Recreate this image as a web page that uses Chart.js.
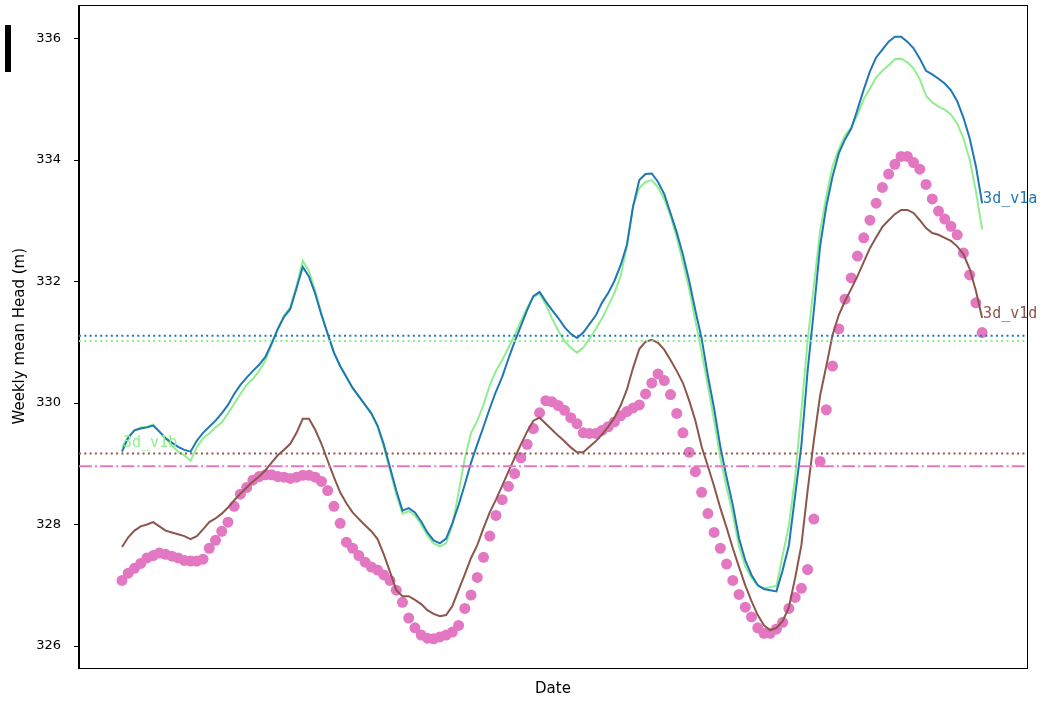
<!DOCTYPE html>
<html><head><meta charset="utf-8">
<script src="https://cdn.jsdelivr.net/npm/chart.js@4.4.0/dist/chart.umd.min.js"></script>
<style>html,body{margin:0;padding:0;background:#fff;}#wrap{width:1048px;height:703px;position:relative;}</style>
</head><body><div id="wrap"><canvas id="c" width="1048" height="703"></canvas></div>
<script>
// Weekly mean head (m), one value per week
const v1a = [329.20,329.43,329.55,329.58,329.60,329.63,329.53,329.42,329.35,329.28,329.23,329.20,329.38,329.51,329.61,329.71,329.83,329.97,330.15,330.30,330.42,330.53,330.63,330.76,330.98,331.22,331.42,331.55,331.89,332.24,332.08,331.80,331.45,331.14,330.83,330.61,330.43,330.25,330.11,329.97,329.83,329.63,329.32,328.94,328.56,328.23,328.27,328.20,328.05,327.87,327.74,327.69,327.77,328.02,328.32,328.66,329.02,329.32,329.61,329.91,330.19,330.43,330.73,331.01,331.27,331.53,331.76,331.83,331.67,331.53,331.40,331.25,331.14,331.07,331.16,331.30,331.44,331.65,331.81,332.01,332.27,332.60,333.24,333.67,333.77,333.78,333.64,333.44,333.13,332.81,332.44,332.01,331.52,331.06,330.45,329.91,329.28,328.78,328.32,327.77,327.41,327.17,327.00,326.94,326.92,326.90,327.25,327.66,328.48,329.30,330.53,331.52,332.58,333.24,333.73,334.11,334.34,334.52,334.83,335.16,335.46,335.69,335.82,335.95,336.03,336.03,335.95,335.84,335.67,335.47,335.41,335.34,335.26,335.15,334.97,334.70,334.36,333.90,333.29];
const v1b = [329.27,329.45,329.55,329.60,329.61,329.65,329.53,329.42,329.30,329.20,329.14,329.05,329.27,329.42,329.50,329.60,329.68,329.83,329.99,330.15,330.30,330.40,330.53,330.70,330.96,331.22,331.44,331.58,331.93,332.34,332.17,331.85,331.48,331.14,330.83,330.61,330.43,330.25,330.11,329.97,329.83,329.61,329.28,328.89,328.50,328.18,328.22,328.15,328.00,327.82,327.69,327.64,327.69,327.99,328.53,329.09,329.51,329.71,329.97,330.29,330.53,330.71,330.91,331.12,331.35,331.57,331.75,331.80,331.62,331.39,331.19,331.02,330.91,330.83,330.91,331.06,331.22,331.39,331.60,331.81,332.09,332.58,333.24,333.54,333.64,333.67,333.55,333.36,333.08,332.73,332.31,331.88,331.35,330.83,330.29,329.71,329.10,328.61,328.17,327.64,327.31,327.12,327.00,326.95,326.97,326.99,327.49,327.99,328.78,329.88,331.02,331.93,332.83,333.41,333.90,334.18,334.41,334.54,334.74,335.00,335.18,335.36,335.47,335.56,335.66,335.67,335.61,335.51,335.33,335.06,334.95,334.88,334.83,334.75,334.60,334.36,334.01,333.49,332.86];
const v1d = [327.63,327.79,327.90,327.97,328.00,328.04,327.97,327.90,327.87,327.84,327.81,327.76,327.81,327.92,328.04,328.10,328.18,328.28,328.40,328.51,328.61,328.71,328.79,328.89,329.02,329.14,329.23,329.33,329.51,329.74,329.74,329.56,329.33,329.05,328.78,328.53,328.35,328.20,328.09,327.99,327.89,327.76,327.51,327.22,326.92,326.82,326.82,326.76,326.69,326.59,326.53,326.49,326.51,326.66,326.92,327.18,327.45,327.66,327.94,328.20,328.41,328.64,328.87,329.10,329.32,329.53,329.71,329.76,329.66,329.56,329.46,329.37,329.27,329.19,329.19,329.28,329.37,329.48,329.61,329.76,329.96,330.22,330.58,330.89,331.01,331.04,330.99,330.88,330.71,330.53,330.33,330.04,329.71,329.28,328.96,328.63,328.27,327.95,327.61,327.30,327.00,326.74,326.51,326.34,326.26,326.30,326.41,326.64,327.12,327.66,328.56,329.38,330.12,330.61,331.12,331.45,331.68,331.88,332.09,332.32,332.55,332.73,332.90,333.01,333.11,333.18,333.18,333.13,333.01,332.88,332.80,332.77,332.72,332.67,332.58,332.45,332.21,331.85,331.40];
const observed = [327.08,327.20,327.28,327.36,327.45,327.49,327.53,327.51,327.48,327.45,327.41,327.40,327.40,327.43,327.61,327.74,327.89,328.04,328.30,328.50,328.61,328.73,328.79,328.82,328.82,328.79,328.78,328.76,328.78,328.81,328.81,328.78,328.71,328.56,328.30,328.02,327.71,327.61,327.49,327.38,327.30,327.25,327.17,327.08,326.92,326.72,326.46,326.30,326.18,326.13,326.12,326.15,326.18,326.23,326.34,326.62,326.84,327.13,327.46,327.81,328.15,328.41,328.63,328.84,329.10,329.32,329.58,329.84,330.04,330.02,329.96,329.88,329.76,329.66,329.51,329.50,329.50,329.55,329.61,329.69,329.79,329.86,329.92,329.97,330.15,330.33,330.48,330.37,330.14,329.83,329.51,329.19,328.87,328.53,328.18,327.87,327.61,327.35,327.08,326.85,326.64,326.48,326.30,326.21,326.21,326.28,326.39,326.62,326.80,326.95,327.26,328.09,329.04,329.89,330.61,331.22,331.71,332.06,332.42,332.72,333.01,333.29,333.55,333.77,333.93,334.06,334.06,333.96,333.85,333.60,333.36,333.16,333.03,332.91,332.77,332.47,332.11,331.65,331.16];
// Mean reference levels
const meanV1a = 331.11;
const meanV1b = 331.02;
const meanV1d = 329.17;
const meanObserved = 328.96;
// Axis ticks / labels
const yTicks = [326, 328, 330, 332, 334, 336];
const seriesNames = ['3d_v1a', '3d_v1b', '3d_v1d'];

const weekIndex = v1a.map((_, i) => i);
const X_MIN = -6.9, X_MAX = 145.2, Y_MIN = 325.655, Y_MAX = 336.545;

const toXY = arr => arr.map((v, i) => ({x: weekIndex[i], y: v}));
const hline = v => [{x: X_MIN, y: v}, {x: X_MAX, y: v}];

const C_BLUE = '#1f77b4', C_GREEN = '#90ee90', C_BROWN = '#8c564b', C_PINK = '#e377c2';

const framePlugin = {
  id: 'frame',
  afterDraw(chart) {
    const ctx = chart.ctx, a = chart.chartArea;
    ctx.save();
    ctx.strokeStyle = '#000'; ctx.lineWidth = 1;
    ctx.strokeRect(Math.round(a.left) - 0.5, Math.round(a.top) - 0.5, Math.round(a.right - a.left) + 1, Math.round(a.bottom - a.top) + 1);
    const xs = chart.scales.x, ys = chart.scales.y;
    ctx.font = '15px "DejaVu Sans Mono", monospace';
    ctx.textBaseline = 'alphabetic';
    ctx.textAlign = 'left';
    const last = v1a.length - 1;
    ctx.fillStyle = C_BLUE;
    ctx.fillText(seriesNames[0], xs.getPixelForValue(weekIndex[last]) + 1, ys.getPixelForValue(v1a[last]));
    ctx.fillStyle = C_BROWN;
    ctx.fillText(seriesNames[2], xs.getPixelForValue(weekIndex[last]) + 1, ys.getPixelForValue(v1d[last]));
    ctx.fillStyle = C_GREEN;
    ctx.fillText(seriesNames[1], xs.getPixelForValue(weekIndex[0]) + 1, ys.getPixelForValue(v1b[0]));
    ctx.fillStyle = '#000';
    ctx.fillRect(5, 25, 6, 47);
    ctx.restore();
  }
};

new Chart(document.getElementById('c'), {
  type: 'line',
  data: {
    datasets: [
      {label: 'obs', type: 'scatter', data: toXY(observed), pointRadius: 5.5, pointHoverRadius: 5.5, backgroundColor: C_PINK, borderWidth: 0, order: 10},
      {label: seriesNames[0], data: toXY(v1a), borderColor: C_BLUE, borderWidth: 2, pointRadius: 0, tension: 0, order: 2},
      {label: seriesNames[1], data: toXY(v1b), borderColor: C_GREEN, borderWidth: 2, pointRadius: 0, tension: 0, order: 3},
      {label: seriesNames[2], data: toXY(v1d), borderColor: C_BROWN, borderWidth: 2, pointRadius: 0, tension: 0, order: 1},
      {label: 'm1a', data: hline(meanV1a), borderColor: C_BLUE, borderWidth: 2, borderDash: [2, 3.3], pointRadius: 0, order: 0},
      {label: 'm1b', data: hline(meanV1b), borderColor: C_GREEN, borderWidth: 2, borderDash: [2, 3.3], pointRadius: 0, order: 0},
      {label: 'm1d', data: hline(meanV1d), borderColor: C_BROWN, borderWidth: 2, borderDash: [2, 3.3], pointRadius: 0, order: 0},
      {label: 'mobs', data: hline(meanObserved), borderColor: C_PINK, borderWidth: 2, borderDash: [12.8, 3.2, 2, 3.2], pointRadius: 0, order: 0}
    ]
  },
  options: {
    responsive: false, animation: false, devicePixelRatio: 1,
    layout: {padding: {top: 4, right: 21, bottom: 0, left: 0}},
    plugins: {legend: {display: false}, tooltip: {enabled: false}, title: {display: false}},
    scales: {
      x: {
        type: 'linear', min: X_MIN, max: X_MAX,
        ticks: {display: false},
        grid: {display: false},
        border: {display: false},
        title: {display: true, text: 'Date', color: '#000', font: {family: '"DejaVu Sans"', size: 15}, padding: {top: 0, bottom: 5}},
        afterFit: s => { s.height = 36; s.paddingLeft = 0; s.paddingRight = 0; }
      },
      y: {
        type: 'linear', min: Y_MIN, max: Y_MAX,
        afterBuildTicks: s => { s.ticks = yTicks.map(v => ({value: v})); },
        ticks: {color: '#000', font: {family: '"DejaVu Sans"', size: 13}, padding: 13, callback: v => String(v)},
        grid: {drawOnChartArea: false, tickLength: 5, color: '#000', tickColor: '#000'},
        border: {display: true, color: '#000'},
        title: {display: true, text: 'Weekly mean Head (m)', color: '#000', font: {family: '"DejaVu Sans"', size: 15}, padding: {top: 11, bottom: 0}},
        afterFit: s => { s.width = 79; s.paddingTop = 0; s.paddingBottom = 0; }
      }
    }
  },
  plugins: [framePlugin]
});
</script></body></html>
